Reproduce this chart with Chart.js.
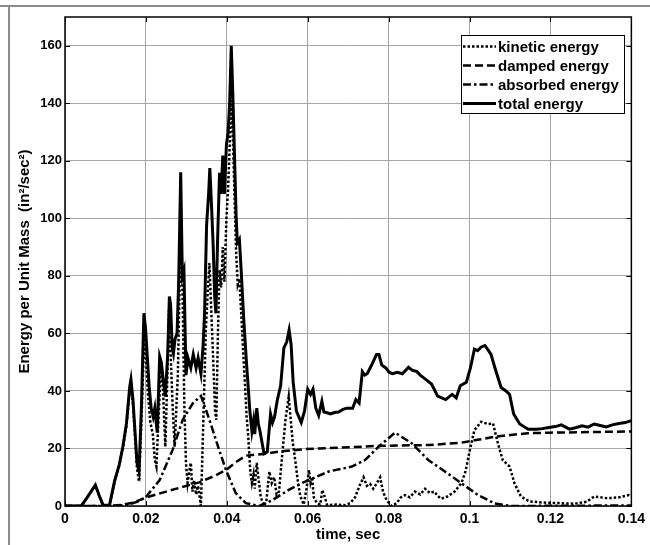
<!DOCTYPE html>
<html>
<head>
<meta charset="utf-8">
<script src="https://cdn.jsdelivr.net/npm/chart.js@4.4.1/dist/chart.umd.min.js"></script>
<style>
  html, body { margin: 0; padding: 0; background: #fff; }
  canvas { display: block; }
</style>
</head>
<body>
<canvas id="chart" width="650" height="545"></canvas>
<script>
// time, sec / energy per unit mass values
var tTotal = [0, 0.004, 0.0055, 0.0075, 0.0085, 0.0094, 0.011, 0.0123, 0.0134, 0.0143, 0.0152, 0.016, 0.0163, 0.0168, 0.0178, 0.0183,
  0.0189, 0.0195, 0.0199, 0.0203, 0.0208, 0.0213, 0.0218, 0.0222, 0.0228, 0.0234, 0.0238, 0.0242, 0.0248, 0.0254, 0.0258, 0.0261,
  0.0265, 0.0268, 0.0272, 0.0277, 0.0281, 0.0286, 0.029, 0.0294, 0.0299, 0.0304, 0.0311, 0.0317, 0.0324, 0.0329, 0.0336, 0.0341,
  0.0345, 0.035, 0.0355, 0.0358, 0.0362, 0.0366, 0.037, 0.0373, 0.0377, 0.0382, 0.0386, 0.039, 0.0394, 0.0399, 0.0403, 0.0407,
  0.0411, 0.0415, 0.0419, 0.0423, 0.0426, 0.0431, 0.0436, 0.0441, 0.0444, 0.0449, 0.0452, 0.0457, 0.0462, 0.0466, 0.0469, 0.0474,
  0.0478, 0.0482, 0.0492, 0.05, 0.0508, 0.0513, 0.0518, 0.0525, 0.0533, 0.0541, 0.0548, 0.0554, 0.0559, 0.0564, 0.0572, 0.0584,
  0.0592, 0.06, 0.0607, 0.0613, 0.062, 0.0627, 0.0635, 0.064, 0.0648, 0.0656, 0.0666, 0.0676, 0.0686, 0.0696, 0.0711, 0.0719,
  0.0727, 0.0735, 0.0741, 0.0747, 0.0758, 0.077, 0.0776, 0.0783, 0.0793, 0.0801, 0.0809, 0.0822, 0.0834, 0.0849, 0.0858, 0.087,
  0.0878, 0.089, 0.0906, 0.0913, 0.0921, 0.0941, 0.0957, 0.0967, 0.0977, 0.0992, 0.1002, 0.1012, 0.102, 0.1028, 0.1038, 0.1046,
  0.1053, 0.1063, 0.1078, 0.109, 0.1099, 0.1109, 0.1124, 0.1145, 0.1165, 0.118, 0.1196, 0.1212, 0.1227, 0.1247, 0.1262, 0.1278,
  0.1293, 0.1308, 0.1323, 0.1338, 0.1353, 0.1369, 0.1385, 0.14];
var eTotal = [0, 0, 3, 7.3, 3.5, 0.3, 0.3, 9, 14.3, 20.6, 28.8, 41.5, 44, 37, 15, 12,
  35, 67, 62, 53, 41.5, 34, 31, 34, 25.5, 52, 50, 45, 38, 53, 72.8, 70,
  55, 53, 58, 60, 78, 116, 80, 82, 45.5, 51.5, 48, 52.7, 48, 51.5, 46, 55,
  67, 97.6, 108.5, 117.5, 105, 91.5, 73, 67, 91.5, 115.8, 108.5, 121.8, 108.5, 125.5, 129.7, 140,
  160, 142.4, 121.8, 101, 91.5, 92.7, 80.6, 67, 60, 49, 43, 33, 26, 29.7, 25, 34,
  28.5, 26, 18.2, 18.8, 32, 29, 31, 37, 41.8, 55, 57, 61.2, 56, 43, 33, 29,
  33, 40.6, 38.8, 40.6, 34, 31.5, 36.4, 32.7, 32.4, 32, 32.5, 32.7, 33.5, 34, 34, 37,
  35.8, 46.7, 45.5, 46, 49, 52.7, 52.7, 49, 48, 46.5, 46, 46.5, 46, 48.2, 47.2, 46.7,
  45.5, 44.2, 42.4, 40.5, 38.2, 37, 38.8, 37.6, 41.8, 43, 47.9, 54.5, 54, 55.2, 55.8, 54.2,
  52.7, 47.9, 41.2, 40, 38.8, 32, 28.5, 26.7, 26.7, 26.9, 27.3, 27.6, 28.2, 26.7, 27.2, 27.9,
  27.4, 28.5, 28, 27.5, 28.2, 28.7, 29, 29.7];

var tKinetic = [0, 0.004, 0.0055, 0.0075, 0.0085, 0.0094, 0.011, 0.0123, 0.0134, 0.0143, 0.0152, 0.016, 0.0163, 0.0168, 0.0178, 0.0183,
  0.0189, 0.0196, 0.02, 0.0205, 0.0211, 0.0217, 0.0222, 0.0226, 0.0231, 0.0237, 0.0242, 0.0248, 0.0253, 0.0257, 0.026, 0.0266,
  0.0271, 0.0279, 0.0283, 0.0287, 0.0291, 0.0295, 0.0299, 0.0303, 0.0307, 0.0311, 0.0315, 0.0319, 0.0324, 0.0329, 0.0336, 0.0342,
  0.0348, 0.0353, 0.0357, 0.0361, 0.0366, 0.0371, 0.0374, 0.0378, 0.0382, 0.0386, 0.039, 0.0394, 0.0399, 0.0403, 0.0407, 0.0411,
  0.0415, 0.0419, 0.0423, 0.0427, 0.0431, 0.0436, 0.0441, 0.0445, 0.0449, 0.0453, 0.0458, 0.0462, 0.0466, 0.0469, 0.0474, 0.0478,
  0.0484, 0.0492, 0.0498, 0.0505, 0.0511, 0.0517, 0.0523, 0.0529, 0.0537, 0.0545, 0.0553, 0.0557, 0.0563, 0.057, 0.0576, 0.0582,
  0.059, 0.0597, 0.0603, 0.0607, 0.0611, 0.0615, 0.0623, 0.0631, 0.0636, 0.064, 0.0648, 0.067, 0.0692, 0.0705, 0.0717, 0.0728,
  0.0738, 0.0746, 0.0754, 0.0762, 0.0771, 0.0779, 0.0786, 0.0795, 0.0807, 0.082, 0.083, 0.084, 0.0852, 0.0865, 0.0878, 0.089,
  0.0902, 0.0913, 0.0921, 0.093, 0.0945, 0.0963, 0.098, 0.099, 0.1, 0.1012, 0.1029, 0.1045, 0.1058, 0.107, 0.1082, 0.1099,
  0.1111, 0.1127, 0.1148, 0.118, 0.122, 0.126, 0.129, 0.1308, 0.1341, 0.137, 0.1394, 0.14];
var eKinetic = [0, 0, 3, 7.2, 3.4, 0.2, 0.2, 8.7, 14, 20, 28, 40.5, 42.5, 35.5, 13, 8.5,
  30, 60, 52, 39, 29, 25, 16, 13.7, 30, 48, 41, 20.6, 45, 68, 57, 35,
  20.6, 46, 75, 100, 70, 35, 15, 8, 12, 15, 5, 9, 4, 7, 0, 30,
  61, 75, 84.5, 70, 52, 33, 30, 60, 82, 76, 90, 78, 100, 110, 125, 141,
  128, 108, 88, 77, 79, 66, 52, 42, 31, 24, 12, 8, 11, 6, 15, 10,
  3, 0, 2, 12, 8, 10, 4, 5, 18, 30, 38, 31.5, 22, 15, 8, 3.3,
  0.5, 6, 12.5, 8, 10, 3, 1, 0.5, 5.6, 4, 0.3, 0.5, 0.3, 1, 3, 7,
  10, 7, 7.7, 6, 8, 10, 5, 2, 0, 1, 3, 3.8, 3, 5, 4, 6,
  4.5, 5, 3.5, 2.5, 3.3, 5, 8, 12, 19, 26.4, 29.3, 28.5, 28.7, 21.8, 16, 13.7,
  7.9, 3.3, 1.6, 1.2, 1, 0.8, 1.5, 3.3, 2.7, 3, 3.8, 3.5];

var tDamped = [0, 0.01, 0.014, 0.017, 0.0201, 0.025, 0.03, 0.0332, 0.037, 0.0398, 0.0425, 0.0447, 0.0496, 0.0529, 0.0594, 0.07,
  0.0775, 0.09, 0.0979, 0.102, 0.1062, 0.1144, 0.12, 0.1397, 0.14];
var eDamped = [0, 0, 0.4, 1.2, 3, 5, 7, 8.2, 10.5, 12.5, 15.5, 17.5, 18.2, 18.9, 19.8, 20.4,
  20.9, 21.2, 22, 23, 24.1, 25.3, 25.5, 25.9, 25.9];

var tAbsorbed = [0, 0.012, 0.015, 0.018, 0.0201, 0.0234, 0.0266, 0.0291, 0.0316, 0.0336, 0.0357, 0.0381, 0.0398, 0.0422, 0.0447, 0.048,
  0.0512, 0.0553, 0.0586, 0.0611, 0.0652, 0.0709, 0.0742, 0.0775, 0.0816, 0.0857, 0.0898, 0.0939, 0.098, 0.1021, 0.1062, 0.1103, 0.14];
var eAbsorbed = [0, 0, 0.3, 1.5, 3.3, 9, 19.5, 30, 35.7, 38.3, 30, 19.5, 12.5, 4.5, 1, 0,
  2, 5.6, 8, 9.5, 12, 13.7, 16, 20.6, 25.5, 21.8, 16, 12, 7.9, 3.8, 0.9, 0, 0.2];

var seriesLabels = ['kinetic energy', 'damped energy', 'absorbed energy', 'total energy'];
var xTickLabels = ['0', '0.02', '0.04', '0.06', '0.08', '0.1', '0.12', '0.14'];

var FONT = '"Liberation Sans", Arial, Helvetica, sans-serif';

function pairs(ts, vs) {
  return ts.map(function (t, i) { return { x: t, y: vs[i] }; });
}

// plot box, inward ticks on all sides, figure frame and the legend
var decor = {
  id: 'decor',
  afterDraw: function (chart) {
    var ctx = chart.ctx;
    var a = chart.chartArea;
    var xs = chart.scales.x;
    var ys = chart.scales.y;
    ctx.save();

    ctx.strokeStyle = '#8c8c8c';
    ctx.lineWidth = 2;
    ctx.beginPath();
    ctx.moveTo(0, 6); ctx.lineTo(650, 6);
    ctx.moveTo(9, 6); ctx.lineTo(9, 545);
    ctx.stroke();

    ctx.strokeStyle = '#000';
    ctx.lineWidth = 1;
    ctx.beginPath();
    xs.ticks.forEach(function (t) {
      var px = Math.round(xs.getPixelForValue(t.value)) + 0.5;
      ctx.moveTo(px, a.bottom); ctx.lineTo(px, a.bottom - 5);
      ctx.moveTo(px, a.top); ctx.lineTo(px, a.top + 5);
    });
    ys.ticks.forEach(function (t) {
      var py = Math.round(ys.getPixelForValue(t.value)) + 0.5;
      ctx.moveTo(a.left, py); ctx.lineTo(a.left + 5, py);
      ctx.moveTo(a.right, py); ctx.lineTo(a.right - 5, py);
    });
    ctx.stroke();
    ctx.lineWidth = 1.5;
    ctx.strokeRect(a.left, a.top, a.right - a.left, a.bottom - a.top);

    // legend
    var lx = 461, ly = 35, lw = 163, lh = 78;
    ctx.fillStyle = '#fff';
    ctx.fillRect(lx, ly, lw, lh);
    ctx.lineWidth = 1;
    ctx.strokeRect(lx + 0.5, ly + 0.5, lw, lh);
    ctx.font = 'bold 15px ' + FONT;
    ctx.textBaseline = 'middle';
    chart.data.datasets.forEach(function (ds, i) {
      var y = ly + 11.5 + i * 19;
      ctx.setLineDash(ds.borderDash || []);
      ctx.lineWidth = ds.borderWidth;
      ctx.strokeStyle = '#000';
      ctx.beginPath();
      ctx.moveTo(lx + 2, y); ctx.lineTo(lx + 35, y);
      ctx.stroke();
      ctx.setLineDash([]);
      ctx.fillStyle = '#000';
      ctx.fillText(ds.label, lx + 37, y + 1);
    });
    ctx.restore();
  }
};

new Chart(document.getElementById('chart'), {
  type: 'line',
  data: {
    datasets: [
      { label: seriesLabels[0], data: pairs(tKinetic, eKinetic), borderDash: [2.5, 2], borderWidth: 2.5, order: 3 },
      { label: seriesLabels[1], data: pairs(tDamped, eDamped), borderDash: [8, 4], borderWidth: 2.5, order: 2 },
      { label: seriesLabels[2], data: pairs(tAbsorbed, eAbsorbed), borderDash: [8, 3, 2.5, 3], borderWidth: 2.5, order: 1 },
      { label: seriesLabels[3], data: pairs(tTotal, eTotal), borderWidth: 3, order: 0 }
    ].map(function (ds) {
      ds.borderColor = '#000';
      ds.pointRadius = 0;
      ds.tension = 0;
      ds.fill = false;
      return ds;
    })
  },
  options: {
    responsive: false,
    animation: false,
    layout: { padding: { left: 0, top: 17, right: 16, bottom: 0 } },
    plugins: { legend: { display: false }, tooltip: { enabled: false } },
    scales: {
      x: {
        type: 'linear',
        min: 0,
        max: 0.14,
        ticks: {
          stepSize: 0.02,
          padding: 5,
          maxRotation: 0,
          color: '#000',
          font: { family: FONT, size: 14, weight: 'bold' },
          callback: function (v) { return xTickLabels[Math.round(v / 0.02)]; }
        },
        grid: { color: '#a6a6a6', drawTicks: false },
        border: { display: false },
        title: {
          display: true,
          text: 'time, sec',
          color: '#000',
          font: { family: FONT, size: 15, weight: 'bold' },
          padding: { top: 0, bottom: 1 }
        },
        afterFit: function (s) { s.height = 39; }
      },
      y: {
        min: 0,
        max: 170,
        ticks: {
          stepSize: 20,
          padding: 3,
          color: '#000',
          font: { family: FONT, size: 13, weight: 'bold' }
        },
        afterBuildTicks: function (s) {
          s.ticks = s.ticks.filter(function (t) { return t.value % 20 === 0; });
        },
        grid: { color: '#a6a6a6', drawTicks: false },
        border: { display: false },
        title: {
          display: true,
          text: 'Energy per Unit Mass  (in\u00b2/sec\u00b2)',
          color: '#000',
          font: { family: FONT, size: 15, weight: 'bold' },
          padding: { top: 16, bottom: 0 }
        },
        afterFit: function (s) { s.width = 65; }
      }
    }
  },
  plugins: [decor]
});
</script>
</body>
</html>
